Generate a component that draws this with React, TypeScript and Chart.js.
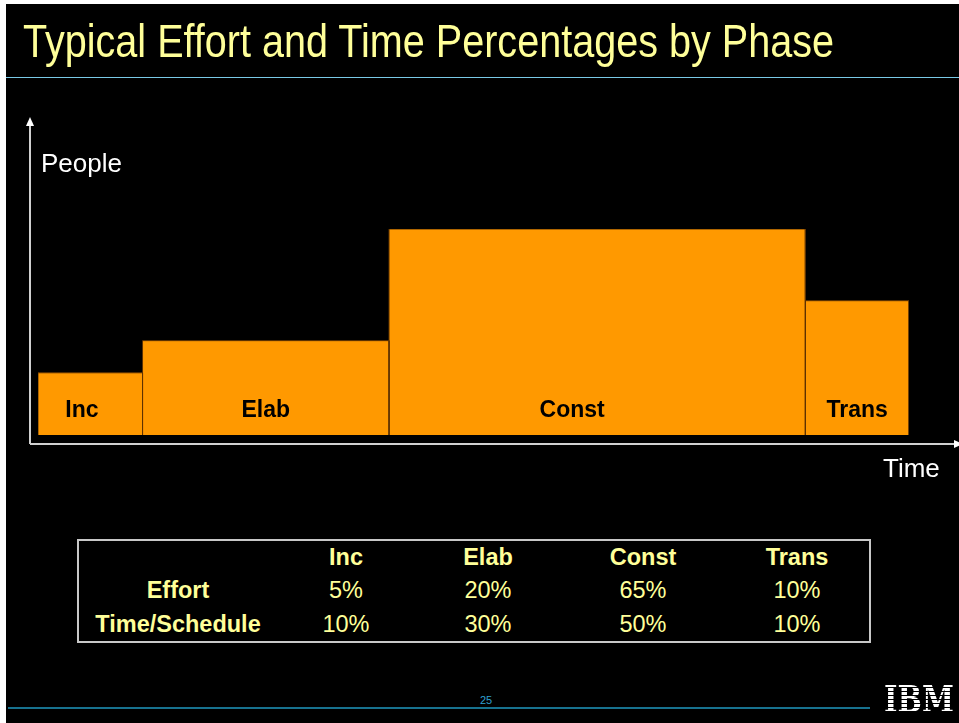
import React, { useEffect, useRef } from "react";
import { Chart, registerables } from "chart.js";

Chart.register(...registerables);

// ---- data ----
const phases = ["Inc", "Elab", "Const", "Trans"];
const effortPct = ["5%", "20%", "65%", "10%"];
const timePct = ["10%", "30%", "50%", "10%"];
const rowLabels = ["Effort", "Time/Schedule"];
// bar widths along the drawn time axis (share of total)
const barWidths = [12, 28.3, 47.8, 11.9];
// bar heights (people, relative; Const = 100)
const barHeights = [30.2, 45.8, 100, 65.2];
// where the phase label sits inside each bar (fraction of bar width)
const labelPos = [0.42, 0.5, 0.44, 0.5];

const SANS = '"Liberation Sans", Arial, Helvetica, sans-serif';
const YELLOW = "#FFFF99";

function buildEdges(): number[] {
  const edges = [0];
  barWidths.forEach((w) => edges.push(edges[edges.length - 1] + w));
  return edges;
}

const slidePlugin = {
  id: "slideAxes",
  afterDatasetsDraw(chart: any) {
    const { ctx, chartArea, scales } = chart;
    const ax = chartArea.left - 8;
    const ay = chartArea.bottom + 9;
    ctx.save();
    // axes
    ctx.strokeStyle = "#d0d0d0";
    ctx.lineWidth = 2;
    ctx.beginPath();
    ctx.moveTo(ax, ay);
    ctx.lineTo(ax, 44);
    ctx.moveTo(ax, ay);
    ctx.lineTo(chart.width, ay);
    ctx.stroke();
    ctx.fillStyle = "#ffffff";
    ctx.beginPath();
    ctx.moveTo(ax, 37);
    ctx.lineTo(ax - 4, 46);
    ctx.lineTo(ax + 4, 46);
    ctx.closePath();
    ctx.fill();
    ctx.beginPath();
    ctx.moveTo(chart.width + 4, ay);
    ctx.lineTo(chart.width - 5, ay - 4);
    ctx.lineTo(chart.width - 5, ay + 4);
    ctx.closePath();
    ctx.fill();
    // axis titles
    ctx.fillStyle = "#ffffff";
    ctx.font = `26px ${SANS}`;
    ctx.textAlign = "left";
    ctx.textBaseline = "alphabetic";
    ctx.fillText("People", 35, 92);
    ctx.fillText("Time", 877, 397);
    // phase labels inside bars
    const edges = buildEdges();
    ctx.fillStyle = "#000000";
    ctx.font = `bold 23px ${SANS}`;
    ctx.textAlign = "center";
    phases.forEach((p, i) => {
      const xv = edges[i] + barWidths[i] * labelPos[i];
      ctx.fillText(p, scales.x.getPixelForValue(xv), chartArea.bottom - 18);
    });
    ctx.restore();
  },
};

function PhaseChart() {
  const ref = useRef<HTMLCanvasElement | null>(null);
  useEffect(() => {
    if (!ref.current) return;
    const edges = buildEdges();
    const datasets = phases.map((p, i) => ({
      label: p,
      data: [
        { x: edges[i], y: 0 },
        { x: edges[i], y: barHeights[i] },
        { x: edges[i + 1], y: barHeights[i] },
        { x: edges[i + 1], y: 0 },
      ],
      borderColor: "#5e3300",
      borderWidth: 1,
      backgroundColor: "#FF9900",
      fill: "origin",
      pointRadius: 0,
      tension: 0,
    }));
    const chart = new Chart(ref.current, {
      type: "line",
      data: { datasets },
      options: {
        animation: false,
        responsive: false,
        devicePixelRatio: 1,
        events: [],
        layout: { padding: { left: 32, right: 50, top: 149, bottom: 65 } },
        scales: {
          x: { type: "linear", min: 0, max: 100, display: false },
          y: { type: "linear", min: 0, max: 100, display: false },
        },
        plugins: { legend: { display: false }, tooltip: { enabled: false } },
      },
      plugins: [slidePlugin],
    });
    return () => chart.destroy();
  }, []);
  return (
    <canvas
      ref={ref}
      width={953}
      height={420}
      style={{ position: "absolute", left: 6, top: 80, width: 953, height: 420 }}
    />
  );
}

function TText(props: { text: string; cx: number; baseline: number; bold?: boolean }) {
  const fs = 23.5;
  return (
    <div
      style={{
        position: "absolute",
        left: props.cx,
        top: props.baseline - 0.8465 * fs,
        transform: "translateX(-50%)",
        fontFamily: SANS,
        fontSize: fs,
        lineHeight: `${fs}px`,
        fontWeight: props.bold ? "bold" : "normal",
        color: YELLOW,
        whiteSpace: "nowrap",
      }}
    >
      {props.text}
    </div>
  );
}

export default function App() {
  const colX = [346, 488, 643, 797];
  const labelX = 178;
  const rows = [effortPct, timePct];
  const rowBase = [599, 633];
  return (
    <div style={{ position: "fixed", left: 0, top: 0, width: 959, height: 723, background: "#fff", overflow: "hidden" }}>
      <div style={{ position: "absolute", left: 6, top: 4, right: 0, bottom: 0, background: "#000" }} />
      <div
        style={{
          position: "absolute",
          left: 23,
          top: 17,
          fontFamily: SANS,
          fontSize: 47,
          lineHeight: "47px",
          color: YELLOW,
          whiteSpace: "nowrap",
          transform: "scaleX(0.842)",
          transformOrigin: "0 0",
        }}
      >
        Typical Effort and Time Percentages by Phase
      </div>
      <div style={{ position: "absolute", left: 6, top: 77, width: 953, height: 1, background: "#79c9e6" }} />
      <PhaseChart />
      <div
        style={{
          position: "absolute",
          left: 77,
          top: 539,
          width: 794,
          height: 104,
          boxSizing: "border-box",
          border: "2px solid #c8c8c8",
        }}
      />
      {phases.map((p, i) => (
        <TText key={"h" + i} text={p} cx={colX[i]} baseline={566} bold />
      ))}
      {rowLabels.map((r, j) => (
        <TText key={"r" + j} text={r} cx={labelX} baseline={rowBase[j]} bold />
      ))}
      {rows.map((row, j) =>
        row.map((v, i) => <TText key={`v${j}-${i}`} text={v} cx={colX[i]} baseline={rowBase[j]} />)
      )}
      <div style={{ position: "absolute", left: 8, top: 707, width: 862, height: 2, background: "#17728f" }} />
      <div
        style={{
          position: "absolute",
          left: 480,
          top: 695,
          fontFamily: SANS,
          fontSize: 11,
          lineHeight: "11px",
          color: "#2f9fcf",
        }}
      >
        25
      </div>
      <div
        style={{
          position: "absolute",
          left: 884,
          top: 680,
          fontFamily: '"DejaVu Serif", serif',
          fontWeight: "bold",
          fontSize: 38,
          lineHeight: "38px",
          whiteSpace: "nowrap",
          color: "transparent",
          backgroundImage: "repeating-linear-gradient(180deg, #fff 0px, #fff 3px, #000 3px, #000 4px)",
          WebkitBackgroundClip: "text",
          backgroundClip: "text",
          transform: "scaleX(0.76)",
          transformOrigin: "0 0",
        }}
      >
        IBM
      </div>
    </div>
  );
}
